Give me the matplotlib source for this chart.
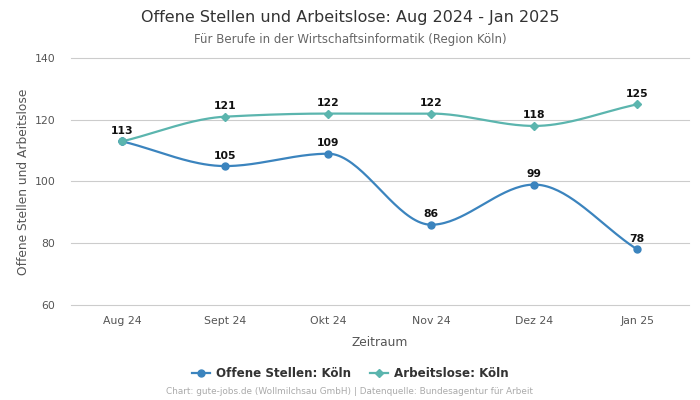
import numpy as np
import matplotlib
matplotlib.use('Agg')
import matplotlib.pyplot as plt
from matplotlib.lines import Line2D

months = ['Aug 24', 'Sept 24', 'Okt 24', 'Nov 24', 'Dez 24', 'Jan 25']
offene = [113, 105, 109, 86, 99, 78]
arbeitslose = [113, 121, 122, 122, 118, 125]

c_blue = '#3b84be'
c_teal = '#5bb5ae'


def smooth(xs, ys, n=40):
    # monotone cubic (Fritsch-Carlson) for the drawn path only
    xs = np.asarray(xs, float); ys = np.asarray(ys, float)
    h = np.diff(xs); d = np.diff(ys) / h
    m = np.zeros_like(ys)
    m[0], m[-1] = d[0], d[-1]
    for i in range(1, len(ys) - 1):
        if d[i - 1] * d[i] <= 0:
            m[i] = 0
        else:
            m[i] = 2 / (1 / d[i - 1] + 1 / d[i])
    px, py = [], []
    for i in range(len(xs) - 1):
        t = np.linspace(0, 1, n)
        h00 = 2*t**3 - 3*t**2 + 1; h10 = t**3 - 2*t**2 + t
        h01 = -2*t**3 + 3*t**2; h11 = t**3 - t**2
        px.extend(xs[i] + t*h[i])
        py.extend(h00*ys[i] + h10*h[i]*m[i] + h01*ys[i+1] + h11*h[i]*m[i+1])
    return np.array(px), np.array(py)


fig = plt.figure(figsize=(7, 4), dpi=100)
ax = fig.add_axes([0.101, 0.2375, 0.883, 0.6175])
x = np.arange(len(months))

sx, sy = smooth(x, arbeitslose)
ax.plot(sx, sy, color=c_teal, lw=1.6, zorder=3)
ax.plot(x, arbeitslose, 'D', color=c_teal, ms=3.6, zorder=4)
sx, sy = smooth(x, offene)
ax.plot(sx, sy, color=c_blue, lw=1.6, zorder=3)
ax.plot(x, offene, 'o', color=c_blue, ms=5, zorder=4)
ax.plot(x[0], arbeitslose[0], 'o', color=c_teal, ms=5, zorder=5)

for i in range(len(x)):
    ax.text(x[i], offene[i] + 1.8, str(offene[i]), ha='center', va='bottom',
            fontsize=7.8, fontweight='bold', color='#111111')
    if i > 0:
        ax.text(x[i], arbeitslose[i] + 1.8, str(arbeitslose[i]), ha='center', va='bottom',
                fontsize=7.8, fontweight='bold', color='#111111')

ax.set_xlim(-0.5, 5.5)
ax.set_ylim(60, 140)
ax.set_yticks([60, 80, 100, 120, 140])
ax.set_xticks(x)
ax.set_xticklabels(months)
ax.grid(axis='y', color='#cccccc', lw=0.8)
for gl in ax.get_ygridlines():
    gl.set_clip_on(False)
ax.set_axisbelow(True)
for s in ax.spines.values():
    s.set_visible(False)
ax.tick_params(length=0, labelsize=7.8, colors='#555555', pad=8)
ax.tick_params(axis='y', pad=11)
ax.set_xlabel('Zeitraum', fontsize=8.8, color='#555555', labelpad=7)
ax.set_ylabel('Offene Stellen und Arbeitslose', fontsize=8.8, color='#555555', labelpad=3)

fig.text(0.5, 0.957, 'Offene Stellen und Arbeitslose: Aug 2024 - Jan 2025',
         ha='center', va='center', fontsize=11.5, color='#333333')
fig.text(0.5, 0.902, 'Für Berufe in der Wirtschaftsinformatik (Region Köln)',
         ha='center', va='center', fontsize=8.5, color='#666666')

handles = [Line2D([], [], color=c_blue, marker='o', ms=5, lw=1.6),
           Line2D([], [], color=c_teal, marker='D', ms=3.6, lw=1.6)]
fig.legend(handles, ['Offene Stellen: Köln', 'Arbeitslose: Köln'], loc='center',
           bbox_to_anchor=(0.5, 0.067), ncol=2, frameon=False, handlelength=1.5,
           columnspacing=1.6, handletextpad=0.5,
           prop={'size': 8.6, 'weight': 'bold'}, labelcolor='#333333')
fig.text(0.5, 0.02, 'Chart: gute-jobs.de (Wollmilchsau GmbH) | Datenquelle: Bundesagentur für Arbeit',
         ha='center', va='center', fontsize=6.4, color='#aaaaaa')

fig.savefig('out.png', dpi=100)
